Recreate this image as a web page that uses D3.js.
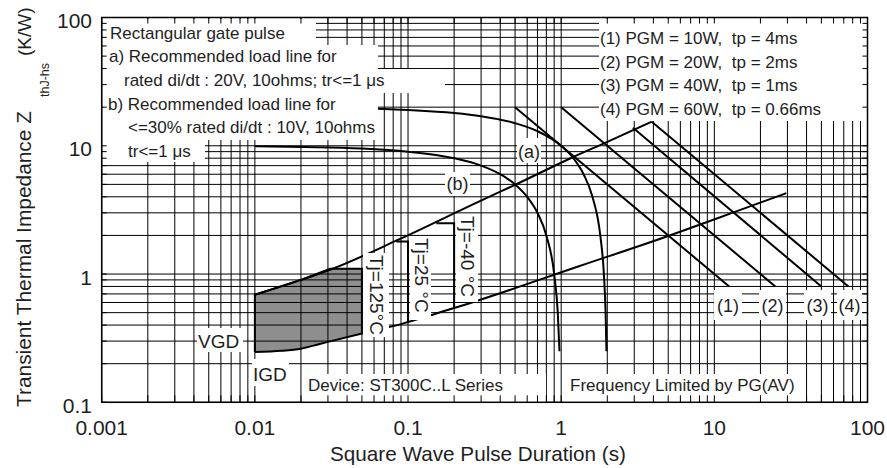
<!DOCTYPE html>
<html><head><meta charset="utf-8">
<script src="https://cdn.jsdelivr.net/npm/d3@7"></script>
<style>
body{margin:0;background:#fff}
text{font-family:"Liberation Sans",Arial,Helvetica,sans-serif;fill:#1e1e1e}
</style>
</head><body>
<svg id="chart" width="887" height="468"></svg>
<script>
// ---------- data ----------
const xTickValues = [0.001, 0.01, 0.1, 1, 10, 100];
const xTickLabels = ["0.001", "0.01", "0.1", "1", "10", "100"];
const yTickValues = [0.1, 1, 10, 100];
const yTickLabels = ["0.1", "1", "10", "100"];

// recommended load lines (a) and (b)
const loadA = [[0.01,20],[0.05,19.6],[0.1,19],[0.2,18],[0.3,17],[0.5,15],[0.7,13],[1,10],[1.2,8],[1.4,6],[1.6,4],[1.8,2],[1.9,1],[1.95,0.5],[1.975,0.25]];
const loadB = [[0.01,9.9],[0.05,9.5],[0.1,9],[0.2,8],[0.3,7],[0.4,6],[0.5,5],[0.6,4],[0.7,3],[0.8,2],[0.9,1],[0.95,0.5],[0.975,0.25]];

// gate characteristic limits
const gateMax = [[0.01,0.69],[0.02,0.9],[0.031,1.08],[0.088,1.87],[0.29,3.67],[0.5,4.96],[1.22,8.25],[1.92,10.5],[3.9,15.4]];
const gateMin = [[0.01,0.247],[0.015,0.252],[0.02,0.262],[0.0265,0.285],[0.05,0.344],[0.09,0.407],[0.153,0.493],[0.25,0.59],[1.32,1.155],[5,1.98],[13.2,3.01],[29.5,4.27]];

// peak gate power lines
const pgm1 = [[0.5,20],[12.5,0.8]];
const pgm2 = [[1,20],[25,0.8]];
const pgm3 = [[2.94,13.8],[50,0.8]];
const pgm4 = [[3.9,15.4],[75,0.8]];

// temperature regions
const tj125 = [[0.01,0.247],[0.01,0.69],[0.02,0.9],[0.031,1.1],[0.05,1.1],[0.05,0.344],[0.0265,0.285],[0.02,0.262],[0.015,0.252]];
const tj25 = [[0.0839,1.79],[0.1,1.79],[0.1,0.42]];
const tjm40 = [[0.153,2.49],[0.2,2.49],[0.2,0.54]];

const legendLines = ["(1) PGM = 10W,  tp = 4ms","(2) PGM = 20W,  tp = 2ms","(3) PGM = 40W,  tp = 1ms","(4) PGM = 60W,  tp = 0.66ms"];
const noteLines = ["Rectangular gate pulse","a) Recommended load line for","rated di/dt : 20V, 10ohms; tr<=1 μs","b) Recommended load line for","<=30% rated di/dt : 10V, 10ohms","tr<=1 μs"];

// ---------- layout ----------
const svg = d3.select("#chart");
const L = 101.7, R = 867.5, T = 17.5, B = 402.3;
const x = d3.scaleLog().domain([0.001, 100]).range([L, R]);
const y = d3.scaleLog().domain([0.1, 100]).range([B, T]);

const lineLin = d3.line().x(d => x(d[0])).y(d => y(d[1]));
const lineSmooth = d3.line().x(d => x(d[0])).y(d => y(d[1])).curve(d3.curveMonotoneX);

// shaded Tj=125 region (under grid)
svg.append("path").attr("d", lineLin(tj125) + "Z")
  .attr("fill", "#8e8e8e").attr("stroke", "none");

// grid
const gx = x.ticks(), gy = y.ticks();
svg.append("g").selectAll("line").data(gx).join("line")
  .attr("x1", d => x(d)).attr("x2", d => x(d)).attr("y1", T).attr("y2", B)
  .attr("stroke", "#000").attr("stroke-width", 1);
svg.append("g").selectAll("line").data(gy).join("line")
  .attr("y1", d => y(d)).attr("y2", d => y(d)).attr("x1", L).attr("x2", R)
  .attr("stroke", "#000").attr("stroke-width", 1);

// data lines
const dl = svg.append("g").attr("fill", "none").attr("stroke", "#000").attr("stroke-width", 2);
dl.append("path").attr("d", lineLin(tj125.slice(0, 6)));
[loadA, loadB].forEach(s => dl.append("path").attr("d", lineSmooth(s)));
[gateMax, gateMin].forEach(s => dl.append("path").attr("d", lineSmooth(s)));
[pgm1, pgm2, pgm3, pgm4].forEach(s => dl.append("path").attr("d", lineLin(s)));
[tj25, tjm40].forEach(s => dl.append("path").attr("d", lineLin(s)));

// white label boxes
const boxes = [
  [103,19,316,45],[103,45,378,69],[103,69,445,93],[103,93,378,117],[103,117,381,140],[103,140,205,162],
  [599,19,867,121],
  [714,290,742,320],[759,290,786,320],[804,290,831,320],[837,290,862,320],
  [517,138,541,163],[445,172,470,196],
  [197,328,243,352],[252,359,289,386],
  [303,374,546,402],[563,374,805,402],
  [363,253,389,337],[410,236,431,320],[456,214,478,302]
];
svg.append("g").selectAll("rect").data(boxes).join("rect")
  .attr("x", d => d[0]).attr("y", d => d[1]).attr("width", d => d[2]-d[0]).attr("height", d => d[3]-d[1])
  .attr("fill", "#fff");

// texts
const tg = svg.append("g").style("font-size", "17px");
const noteX = [110,109,124,108,128,128];
const noteY = [38.5,62,85.7,109.5,133,157];
noteLines.forEach((t,i) => tg.append("text").attr("x", noteX[i]).attr("y", noteY[i]).text(t));
legendLines.forEach((t,i) => tg.append("text").attr("x", 600).attr("y", 44 + i*23.5).attr("xml:space","preserve").style("white-space","pre").text(t));

const numLbl = ["(1)","(2)","(3)","(4)"];
const numX = [728, 772.5, 817.5, 849.5];
numLbl.forEach((t,i) => tg.append("text").attr("x", numX[i]).attr("y", 312).attr("text-anchor","middle").style("font-size","18px").text(t));
tg.append("text").attr("x", 529).attr("y", 158).attr("text-anchor","middle").style("font-size","18px").text("(a)");
tg.append("text").attr("x", 457.5).attr("y", 190).attr("text-anchor","middle").style("font-size","18px").text("(b)");
tg.append("text").attr("x", 198).attr("y", 348).style("font-size","19px").text("VGD");
tg.append("text").attr("x", 253).attr("y", 381).style("font-size","19px").text("IGD");
tg.append("text").attr("x", 308).attr("y", 391).text("Device: ST300C..L Series");
tg.append("text").attr("x", 570).attr("y", 391).text("Frequency Limited by PG(AV)");

const tjLbl = [["Tj=125°C",370,255],["Tj=25 °C",415,238],["Tj=-40 °C",461,216]];
tjLbl.forEach(d => tg.append("text").attr("transform", `translate(${d[1]},${d[2]}) rotate(90)`).attr("xml:space","preserve").style("font-size","19px").text(d[0]));

// ticks (inner) and frame
const tk = svg.append("g").attr("stroke", "#000").attr("stroke-width", 1);
gx.forEach(v => {
  tk.append("line").attr("x1", x(v)).attr("x2", x(v)).attr("y1", T).attr("y2", T+6);
  tk.append("line").attr("x1", x(v)).attr("x2", x(v)).attr("y1", B).attr("y2", B-7);
});
gy.forEach(v => {
  tk.append("line").attr("y1", y(v)).attr("y2", y(v)).attr("x1", L).attr("x2", L+5);
  tk.append("line").attr("y1", y(v)).attr("y2", y(v)).attr("x1", R).attr("x2", R-5);
});
svg.append("rect").attr("x", L).attr("y", T).attr("width", R-L).attr("height", B-T)
  .attr("fill", "none").attr("stroke", "#000").attr("stroke-width", 1.5);

// axis labels
const ax = svg.append("g").style("font-size", "21px");
xTickValues.forEach((v,i) => ax.append("text").attr("x", x(v)).attr("y", 435).attr("text-anchor","middle").text(xTickLabels[i]));
yTickValues.forEach((v,i) => ax.append("text").attr("x", 92).attr("y", y(v)+10.5).attr("text-anchor","end").text(yTickLabels[i]));
ax.append("text").attr("x", 478).attr("y", 461).attr("text-anchor","middle").style("font-size","20.7px").text("Square Wave Pulse Duration (s)");
ax.append("text").attr("transform","translate(31,407) rotate(-90)")
  .attr("textLength", 296).attr("lengthAdjust", "spacingAndGlyphs").text("Transient Thermal Impedance Z");
ax.append("text").attr("transform","translate(49,97) rotate(-90)").style("font-size","12.5px").text("thJ-hs");
ax.append("text").attr("transform","translate(31,56) rotate(-90)").style("font-size","19px").text("(K/W)");
</script>
</body></html>
